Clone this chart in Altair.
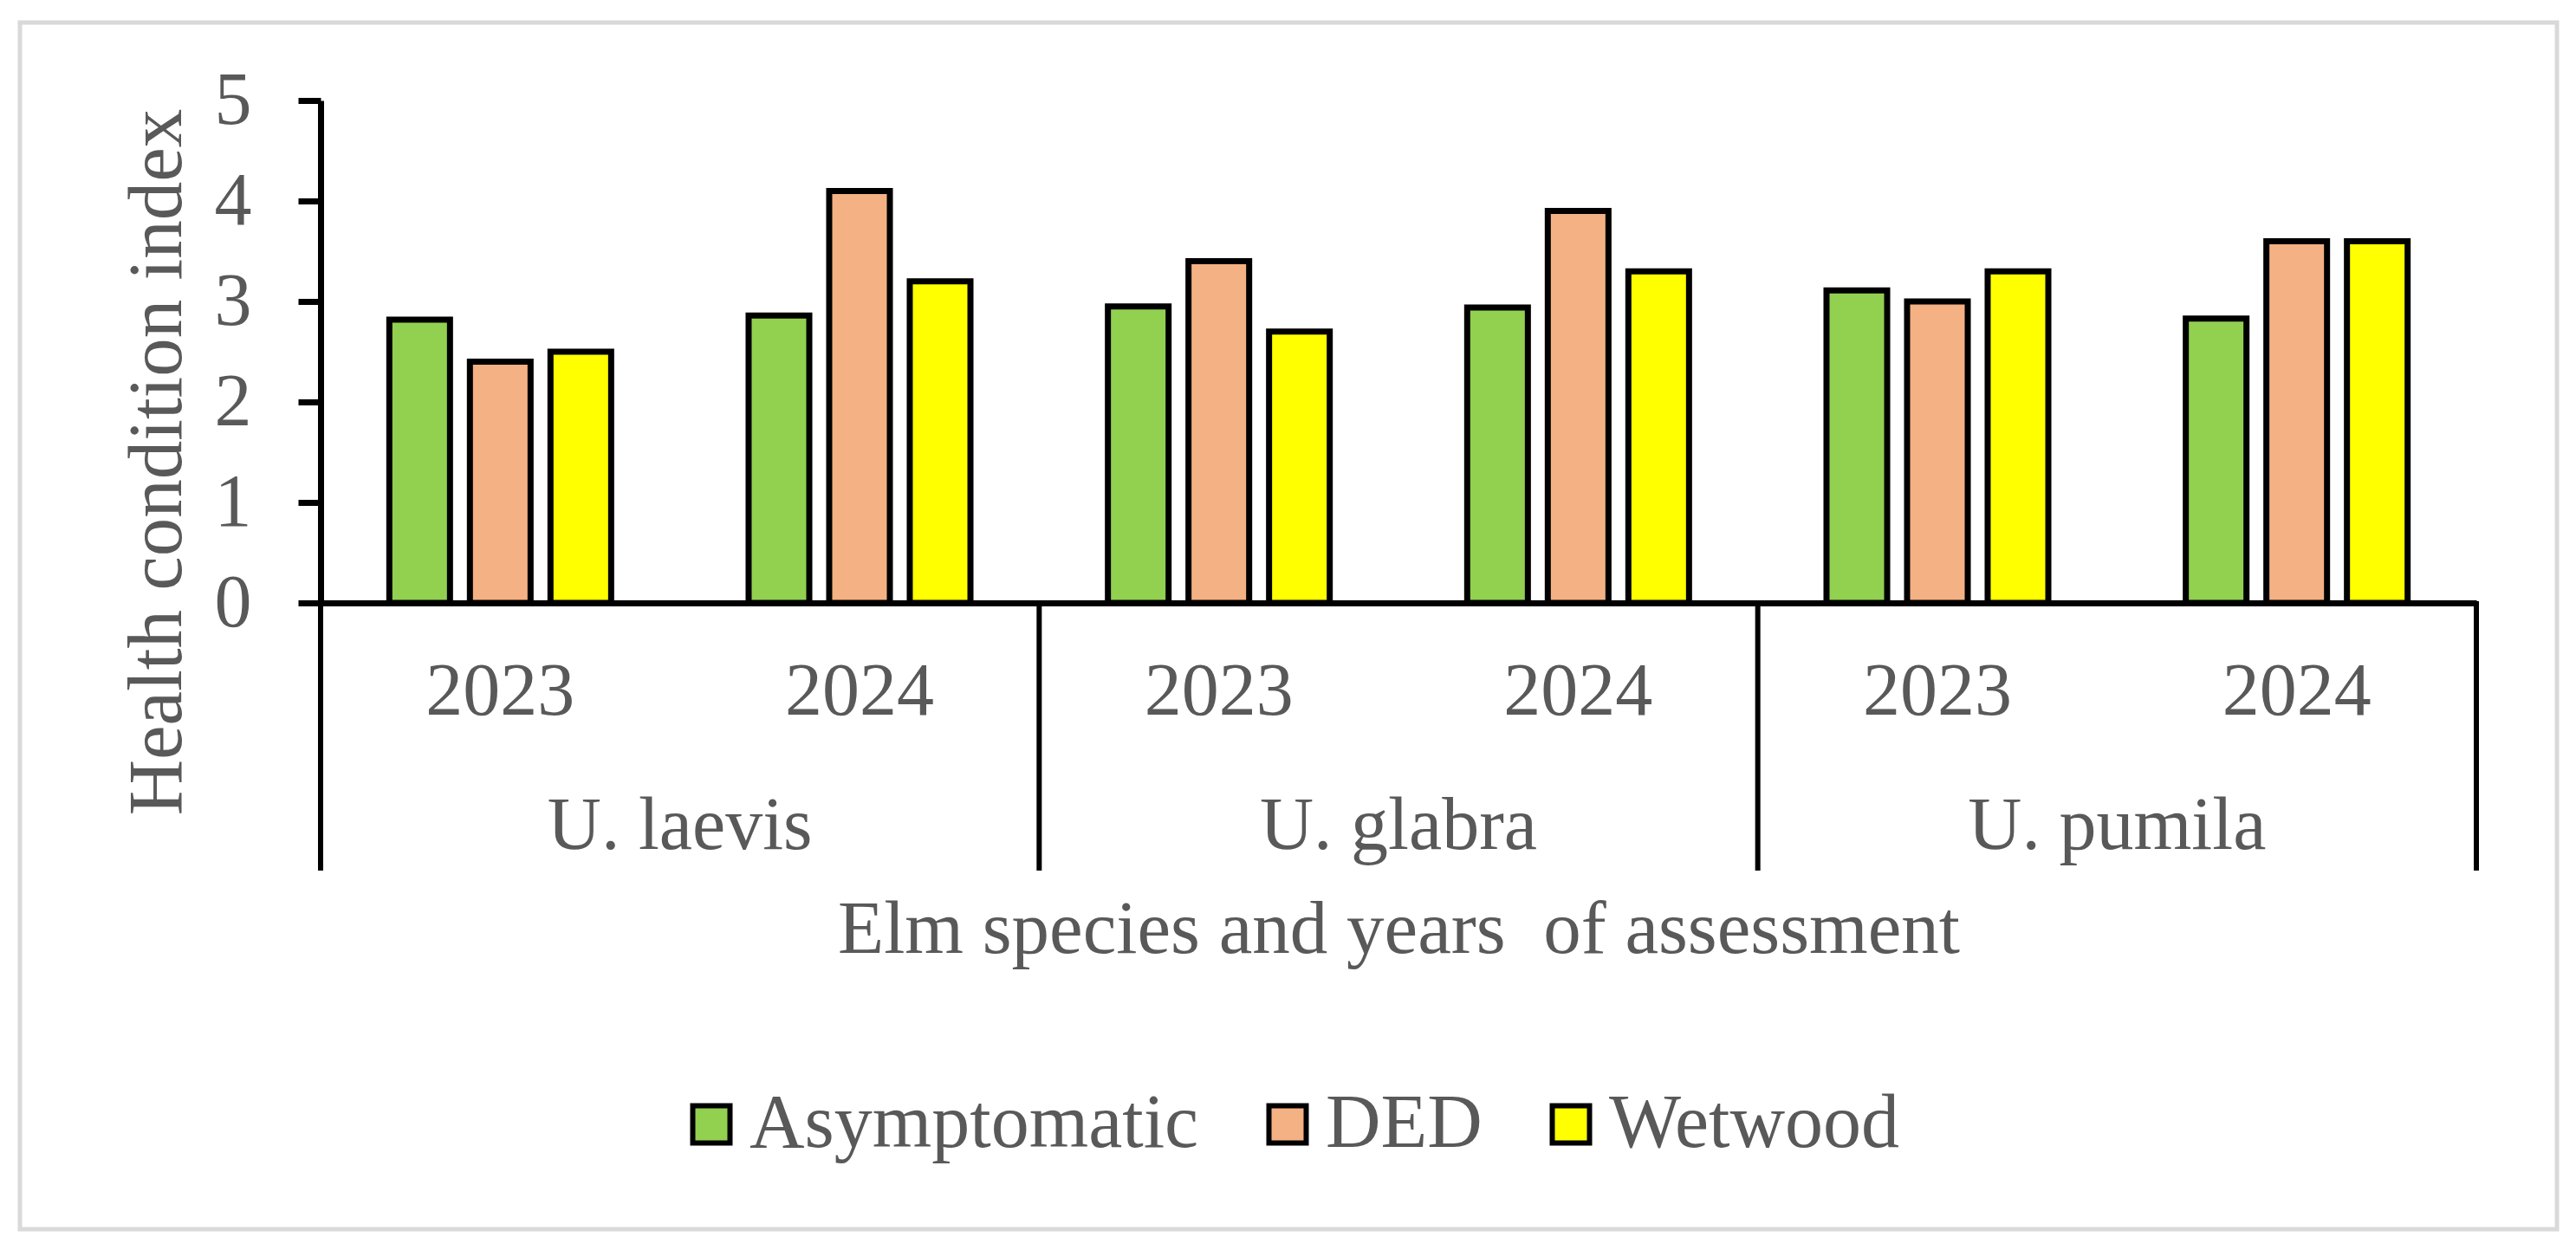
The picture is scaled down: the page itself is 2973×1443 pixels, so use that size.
import altair as alt
import pandas as pd

species = ["U. laevis", "U. glabra", "U. pumila"]
years = ["2023", "2024"]
conditions = ["Asymptomatic", "DED", "Wetwood"]
colors = ["#92D050", "#F4B183", "#FFFF00"]

# values in order: laevis 2023, laevis 2024, glabra 2023, glabra 2024, pumila 2023, pumila 2024
asymptomatic = [2.82, 2.86, 2.95, 2.94, 3.11, 2.83]
ded = [2.4, 4.1, 3.4, 3.9, 3.0, 3.6]
wetwood = [2.5, 3.2, 2.7, 3.3, 3.3, 3.6]

keys = [f"{s}|{y}" for s in species for y in years]

rows = []
for i, k in enumerate(keys):
    for c, vals in zip(conditions, [asymptomatic, ded, wetwood]):
        rows.append({"key": k, "condition": c, "value": vals[i]})
df = pd.DataFrame(rows)

species_df = pd.DataFrame({"key": [f"{s}|2024" for s in species], "species": species})
sep_start = pd.DataFrame({"key": [f"{s}|2023" for s in species]})
sep_end = pd.DataFrame({"key": [keys[-1]]})
frame_df = pd.DataFrame({"f": [0]})

FONT = "Liberation Serif"
GREY = "#595959"

x_scale = alt.Scale(domain=keys, paddingInner=0, paddingOuter=0)

x_axis = alt.Axis(
    title="Elm species and years \u00a0of assessment",
    labelExpr="split(datum.label, '|')[1]",
    labelAngle=0,
    labelFont=FONT,
    labelFontSize=86,
    labelColor=GREY,
    labelBaseline="alphabetic",
    labelPadding=128,
    ticks=False,
    domainColor="black",
    domainWidth=7,
    titleFont=FONT,
    titleFontSize=87,
    titleFontWeight="normal",
    titleColor=GREY,
    titleBaseline="alphabetic",
    titleAlign="center",
    titleX=1244,
    titleY=403,
    grid=False,
)

bars = alt.Chart(df).mark_bar(stroke="black", strokeWidth=7, strokeJoin="miter").encode(
    x=alt.X("key:N", scale=x_scale, sort=keys, axis=x_axis),
    xOffset=alt.XOffset(
        "condition:N",
        scale=alt.Scale(domain=conditions, paddingInner=0.247, paddingOuter=0.853),
    ),
    y=alt.Y(
        "value:Q",
        scale=alt.Scale(domain=[0, 5], nice=False),
        axis=alt.Axis(
            title="Health condition index",
            values=[0, 1, 2, 3, 4, 5],
            grid=False,
            labelFont=FONT,
            labelFontSize=86,
            labelColor=GREY,
            labelPadding=54,
            tickSize=26,
            tickWidth=7,
            tickColor="black",
            domainColor="black",
            domainWidth=7,
            titleFont=FONT,
            titleFontSize=89,
            titleFontWeight="normal",
            titleColor=GREY,
            titleAngle=270,
            titleBaseline="alphabetic",
            titleAlign="center",
            titleX=-162,
            titleY=417,
        ),
    ),
    fill=alt.Fill(
        "condition:N",
        scale=alt.Scale(domain=conditions, range=colors),
        legend=alt.Legend(
            title=None,
            orient="none",
            direction="horizontal",
            legendX=407,
            legendY=1138,
            symbolType="square",
            symbolSize=1849,
            symbolStrokeColor="black",
            symbolStrokeWidth=6,
            symbolOpacity=1,
            labelFont=FONT,
            labelFontSize=88,
            labelColor=GREY,
            labelOffset=0,
            labelLimit=2000,
            columnPadding=58,
            padding=0,
        ),
    ),
)

species_text = alt.Chart(species_df).mark_text(
    font=FONT, fontSize=86, color=GREY, baseline="alphabetic", align="center"
).encode(
    x=alt.X("key:N", bandPosition=0, scale=x_scale, sort=keys, axis=x_axis),
    y=alt.value(864),
    text="species:N",
)

rules_start = alt.Chart(sep_start).mark_rule(color="black", strokeWidth=6).encode(
    x=alt.X("key:N", bandPosition=0, scale=x_scale, sort=keys, axis=x_axis),
    y=alt.value(578),
    y2=alt.value(889),
)

rules_end = alt.Chart(sep_end).mark_rule(color="black", strokeWidth=6).encode(
    x=alt.X("key:N", bandPosition=1, scale=x_scale, sort=keys, axis=x_axis),
    y=alt.value(578),
    y2=alt.value(889),
)

frame = alt.Chart(frame_df).mark_rect(fill=None, stroke="#D9D9D9", strokeWidth=5).encode(
    x=alt.value(-347),
    x2=alt.value(2581),
    y=alt.value(-90),
    y2=alt.value(1303),
)

chart = alt.layer(frame, bars, species_text, rules_start, rules_end).properties(
    width=2488,
    height=580,
    padding={"left": 362, "top": 108, "right": 107, "bottom": 730},
    autosize=alt.AutoSizeParams(type="none"),
    background="white",
).configure_view(stroke=None)

chart.save("out.html", embed_options={"renderer": "svg", "actions": False})
